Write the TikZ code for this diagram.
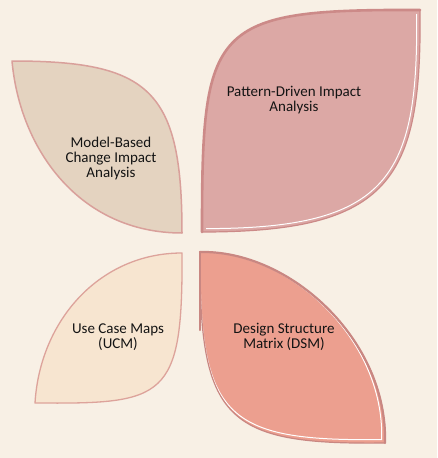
\documentclass[tikz,border=0pt]{standalone}
\usepackage{fontspec}
\setmainfont{Carlito}
\definecolor{bg}{HTML}{F8F0E5}
\definecolor{tlfill}{HTML}{E4D3C0}
\definecolor{tlline}{HTML}{D9A09B}
\definecolor{trfill}{HTML}{DCA8A5}
\definecolor{trline}{HTML}{CC8A88}
\definecolor{blfill}{HTML}{F7E5D0}
\definecolor{blline}{HTML}{DDA39B}
\definecolor{brfill}{HTML}{EC9F8F}
\definecolor{brline}{HTML}{C98782}
\definecolor{txt}{HTML}{141414}
\tikzset{
  leaftext/.style={align=center,font=\fontsize{15}{15}\selectfont,text=txt,inner sep=0pt},
  leafTL/.style={insert path={(12,61) .. controls (150,61) and (182,90) .. (182,233) .. controls (80,233) and (20,150) .. (12,61) -- cycle}},
  leafTR/.style={insert path={(202,232) .. controls (202,25) and (210,9) .. (420,10) .. controls (422,180) and (390,232) .. (202,232) -- cycle}},
  leafBL/.style={insert path={(35,403) .. controls (40,320) and (100,253) .. (182,253) .. controls (183,400) and (165,404) .. (35,403) -- cycle}},
  leafBR/.style={insert path={(200,252) .. controls (290,250) and (388,340) .. (385,443) .. controls (225,445) and (199,420) .. (200,252) -- cycle}},
}
\begin{document}
\begin{tikzpicture}[x=1pt,y=-1pt]
\fill[bg] (0,0) rectangle (437,458);
\useasboundingbox (0,0) rectangle (437,458);
% top-left leaf
\filldraw[fill=tlfill,draw=tlline,line width=1.5pt,line join=round][leafTL];
% top-right leaf
\fill[trfill][leafTR];
\draw[white,line width=1pt] (416.6,14) .. controls (418.5,178) and (387.5,228.6) .. (206,228.6);
\draw[trline,line width=1.2pt,line join=round][leafTR];
\draw[trline,line width=2.6pt,line cap=round] (202,232) .. controls (202,25) and (210,9) .. (420,10);
% bottom-left leaf
\filldraw[fill=blfill,draw=blline,line width=1.3pt,line join=round][leafBL];
% bottom-right leaf
\fill[brfill][leafBR];
\draw[white,line width=1pt,scale around={0.982:(200,252)}][leafBR];
\draw[brline,line width=1.2pt,line join=round][leafBR];
\draw[brline,line width=2.2pt,line cap=round] (200,252) .. controls (290,250) and (388,340) .. (385,443);
\draw[brline,line width=2.2pt,line cap=round] (200,252) -- (200,330);
% texts
\node[leaftext] (mb) at (111,158) {Model-Based\\Change Impact\\Analysis};
\node[leaftext] (pd) at (294,100) {Pattern-Driven Impact\\Analysis};
\node[leaftext] (ucm) at (118,337) {Use Case Maps\\(UCM)};
\node[leaftext] (dsm) at (284,337) {Design Structure\\Matrix (DSM)};
\end{tikzpicture}
\end{document}
